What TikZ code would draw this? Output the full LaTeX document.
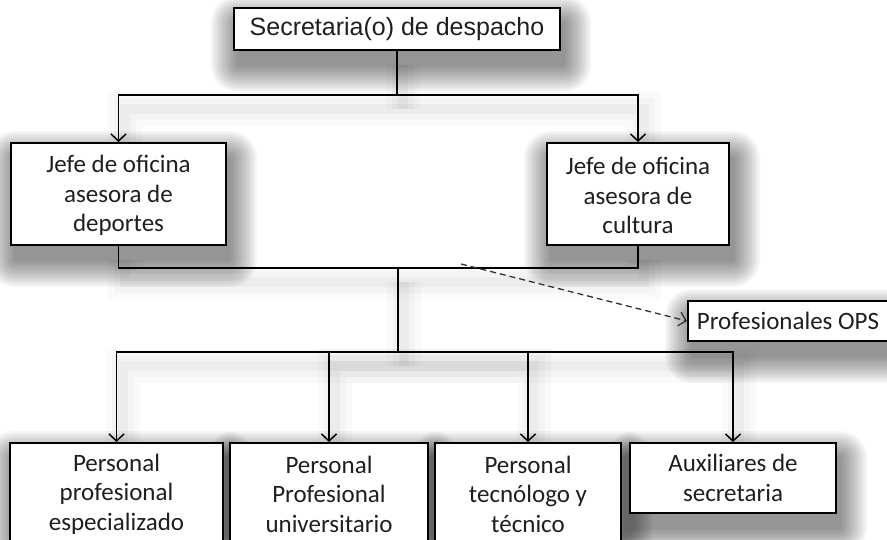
\documentclass[tikz,border=0pt]{standalone}
\usepackage{fontspec}
\setmainfont{Carlito}
\newfontfamily\arialf{Liberation Sans}
\usetikzlibrary{arrows.meta,backgrounds}
\tikzset{
  box/.style={draw=black, line width=2pt, fill=white, inner sep=0pt, align=center,
    text=black!88, font=\fontsize{25}{29.5}\selectfont},
  shadowlayer/.style={fill=black, fill opacity=0.035},
  conn/.style={line width=1.5pt, draw=black},
  ar/.style={-{Straight Barb[length=7pt,width=15pt]}},
  dashar/.style={dash pattern=on 6pt off 4pt, line width=1.3pt, draw=black!80, -{Straight Barb[length=7pt,width=14pt]}},
}
\newcommand\orgconns{%
  \draw[conn] (top.south) -- (j1);
  \draw[conn,ar] (j1) -| (dep.north);
  \draw[conn,ar] (j1) -| (cul.north);
  \draw[conn] (dep.south) |- (j2) -| (cul.south);
  \draw[conn] (j2) -- (j3);
  \draw[conn,ar] (j3) -| (b1.north);
  \draw[conn,ar] (j3) -| (b2.north);
  \draw[conn,ar] (j3) -| (b3.north);
  \draw[conn,ar] (j3) -| (b4.north);
}
\newcommand\boxshadow[1]{%
  \foreach \i in {0,2,...,26}{
    \fill[shadowlayer, rounded corners=\i pt+1pt]
      ([shift={(4-\i,15+\i)}]#1.south west) rectangle ([shift={(4+\i,15-\i)}]#1.north east);
  }%
}
\begin{document}
\begin{tikzpicture}[x=1pt,y=-1pt]
\useasboundingbox (0,0) rectangle (887,539);
\clip (0,0) rectangle (887,539);
\node[box, minimum width=326pt, minimum height=42pt, font=\arialf\fontsize{25}{30}\selectfont] (top) at (397,29) {Secretaria(o) de despacho};
\node[box, minimum width=215pt, minimum height=102pt] (dep) at (118.5,194) {\strut Jefe de oficina\\asesora de\\deportes};
\node[box, minimum width=182pt, minimum height=102pt] (cul) at (638,194) {\strut Jefe de oficina\\asesora de\\cultura};
\node[box, minimum width=200pt, minimum height=40pt] (ops) at (788,321) {Profesionales OPS};
\node[box, minimum width=213pt, minimum height=102pt] (b1) at (116.5,494) {Personal\\profesional\\especializado};
\node[box, minimum width=198pt, minimum height=102pt] (b2) at (329,494) {Personal\\Profesional\\universitario};
\node[box, minimum width=186pt, minimum height=102pt] (b3) at (528,494) {Personal\\tecnólogo y\\técnico};
\node[box, minimum width=206pt, minimum height=70pt] (b4) at (733,478) {Auxiliares de\\secretaria};
\coordinate (j1) at (397,95);
\coordinate (j2) at (398,268);
\coordinate (j3) at (398,352);
\coordinate (d0) at (461,264);
\begin{scope}[on background layer]
  \fill[white] (0,0) rectangle (887,539);
  \boxshadow{top}\boxshadow{dep}\boxshadow{cul}\boxshadow{ops}
  \boxshadow{b1}\boxshadow{b2}\boxshadow{b3}\boxshadow{b4}
  \begin{scope}[transform canvas={shift={(6pt,-14pt)}}]
    \tikzset{ar/.style={}, conn/.style={line width=34pt, draw=black, draw opacity=0.02}}
    \orgconns
    \tikzset{conn/.style={line width=22pt, draw=black, draw opacity=0.025}}
    \orgconns
    \tikzset{conn/.style={line width=10pt, draw=black, draw opacity=0.03}}
    \orgconns
  \end{scope}
\end{scope}
\orgconns
\draw[dashar] (d0) -- (ops.west);
\end{tikzpicture}
\end{document}
